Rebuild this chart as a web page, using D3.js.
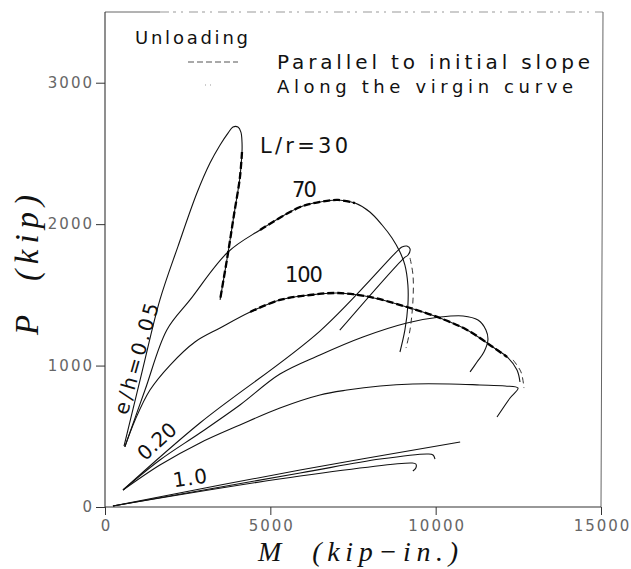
<!DOCTYPE html>
<html>
<head>
<meta charset="utf-8">
<script src="https://cdn.jsdelivr.net/npm/d3@7"></script>
<style>
  body { margin: 0; background: #fff; }
  text { font-family: "DejaVu Sans", sans-serif; }
</style>
</head>
<body>
<svg id="chart" width="631" height="569"></svg>
<script>
// Axis ticks
const xTicks = [0, 5000, 10000, 15000];
const yTicks = [0, 1000, 2000, 3000];

// Load paths, each point = [M (kip-in.), P (kip)]
// e/h = 0.05
const eh005_lr30  = [[575,431],[1120,955],[1660,1464],[2210,1845],[2780,2220],[3175,2432],[3480,2560],[3720,2644],[3870,2687],[4020,2687],[4110,2651],[4143,2581],[4143,2510],[4080,2330],[3900,2065],[3720,1795],[3480,1465]];
const eh005_lr70  = [[600,425],[1210,827],[1870,1252],[2570,1464],[3720,1803],[4690,1959],[5900,2121],[6500,2157],[7050,2171],[7560,2149],[8010,2086],[8380,1994],[8680,1902],[8920,1803],[9070,1711],[9160,1570],[9160,1428],[9070,1252],[8920,1096]];
const eh005_lr100 = [[600,425],[910,615],[1360,827],[1970,1004],[2720,1167],[3480,1266],[4390,1379],[5290,1464],[6200,1499],[7050,1513],[8010,1485],[9130,1414],[10130,1336],[10950,1252],[11730,1131],[12160,1061],[12460,969],[12550,884]];
// e/h = 0.20
const eh020_lr30  = [[545,120],[2870,594],[6500,1244],[8860,1815],[8980,1838],[9130,1845],[9225,1825],[9165,1782],[9040,1760],[7100,1250]];
const eh020_lr70  = [[545,120],[1660,332],[2870,523],[4080,721],[5290,940],[6500,1075],[7800,1202],[9130,1301],[10130,1343],[10830,1351],[11280,1322],[11520,1252],[11580,1181],[11460,1096],[11250,1025],[11040,955]];
const eh020_lr100 = [[545,120],[1660,297],[2870,453],[4080,580],[5290,700],[6500,792],[7320,827],[8320,856],[9310,870],[10430,870],[11340,863],[12100,856],[12490,841],[12250,771],[11855,636]];
// e/h = 1.0
const eh100_lr30  = [[240,7],[5900,262],[10740,460]];
const eh100_lr70  = [[240,7],[5900,240],[8320,339],[9770,375],[9920,368],[9980,339]];
const eh100_lr100 = [[240,7],[5900,219],[9280,311],[9400,304],[9400,276],[9310,255]];

// Unloading parallel to the initial slope (heavy dashes over the load paths)
const unload30  = [[4143,2510],[4080,2330],[3900,2065],[3720,1795],[3480,1465]];
const unload70  = [[4690,1959],[5900,2121],[6500,2157],[7050,2171],[7560,2149]];
const unload100 = [[4390,1379],[5290,1464],[6200,1499],[7050,1513],[8010,1485],[9130,1414],[10130,1336],[10950,1252],[11730,1131],[12160,1061]];
// Light dashed unloading branches beside the descending paths
const unload70b  = [[9224,1761],[9314,1640],[9314,1464],[9224,1252],[9103,1124]];
const unload100b = [[12340,1040],[12580,955],[12670,841]];

const loadPaths = [eh005_lr30, eh005_lr70, eh005_lr100, eh020_lr30, eh020_lr70, eh020_lr100, eh100_lr30, eh100_lr70, eh100_lr100];
const heavyDashed = [unload30, unload70, unload100];
const lightDashed = [unload70b, unload100b];

// Curve labels: [text, M, P, rotation, text length]
const slenderLabels = [["L/r=30", 4690, 2503, 0, 88], ["70", 5655, 2192, 0, 25], ["100", 5443, 1591, 0, 38]];
const eccLabels = [["e/h=0.05", 950, 1050, -74, 115], ["0.20", 1570, 465, -42, 45], ["1.0", 2570, 205, -8, 34]];

const legendTitle = "Unloading";
const legendItems = ["Parallel to initial slope", "Along the virgin curve"];

const svg = d3.select("#chart");
const plotLeft = 105, plotRight = 601, plotTop = 12, plotBottom = 507;

const x = d3.scaleLinear().domain([0, 15000]).range([plotLeft, plotRight]);
const y = d3.scaleLinear().domain([0, 3500]).range([plotBottom, plotTop]);

// Frame
svg.append("line").attr("x1", plotLeft).attr("x2", plotLeft + 55).attr("y1", plotTop).attr("y2", plotTop)
  .attr("stroke", "#666").attr("stroke-width", 1);
svg.append("line").attr("x1", plotLeft + 55).attr("x2", plotRight + 2).attr("y1", plotTop).attr("y2", plotTop)
  .attr("stroke", "#999").attr("stroke-width", 1).attr("stroke-dasharray", "9 4 3 5 2 6");
svg.append("line").attr("x1", plotRight + 2).attr("x2", plotRight).attr("y1", plotTop).attr("y2", plotBottom)
  .attr("stroke", "#666").attr("stroke-width", 1);

// Axes
const xAxis = d3.axisBottom(x).tickValues(xTicks).tickSize(8).tickFormat(d3.format("d"));
const yAxis = d3.axisLeft(y).tickValues(yTicks).tickSize(9).tickFormat(d3.format("d"));

const gx = svg.append("g").attr("transform", `translate(0,${plotBottom})`).call(xAxis);
const gy = svg.append("g").attr("transform", `translate(${plotLeft},0)`).call(yAxis);
[gx, gy].forEach(g => {
  g.select(".domain").attr("stroke", "#333").attr("stroke-width", 1.1);
  g.selectAll(".tick line").attr("stroke", "#333");
  g.selectAll(".tick text").attr("fill", "#666").style("font-size", "15px")
    .style("letter-spacing", "2px").style("font-family", "DejaVu Sans, sans-serif");
});
gy.select(".domain").attr("d", `M0,${plotBottom}V${plotTop}`);
gx.select(".domain").attr("d", `M${plotLeft},0H${plotRight}`);
gx.selectAll(".tick text").attr("dy", "0.85em").attr("dx", "1px");
gy.selectAll(".tick text").attr("x", -11);

// Axis titles
svg.append("text").attr("x", 258).attr("y", 561)
  .style("font-family", "Liberation Serif, serif").style("font-style", "italic").style("font-size", "28px")
  .attr("fill", "#111").attr("textLength", 200).attr("lengthAdjust", "spacing")
  .attr("xml:space", "preserve").text("M  (kip\u2212in.)");
svg.append("text").attr("transform", "translate(38,265) rotate(-90)").attr("text-anchor", "middle")
  .style("font-family", "Liberation Serif, serif").style("font-style", "italic").style("font-size", "33px")
  .attr("fill", "#111").attr("textLength", 140).attr("lengthAdjust", "spacing")
  .attr("xml:space", "preserve").text("P  (kip)");

// Curves
const line = d3.line().x(d => x(d[0])).y(d => y(d[1])).curve(d3.curveCatmullRom.alpha(0.5));
const plot = svg.append("g");
plot.selectAll("path.load").data(loadPaths).join("path").attr("class", "load")
  .attr("d", line).attr("fill", "none").attr("stroke", "#111").attr("stroke-width", 1.1);
plot.selectAll("path.heavy").data(heavyDashed).join("path").attr("class", "heavy")
  .attr("d", line).attr("fill", "none").attr("stroke", "#000").attr("stroke-width", 2.3)
  .attr("stroke-dasharray", "7 3");
plot.selectAll("path.light").data(lightDashed).join("path").attr("class", "light")
  .attr("d", line).attr("fill", "none").attr("stroke", "#333").attr("stroke-width", 1)
  .attr("stroke-dasharray", "6 4");

// Curve labels
svg.selectAll("text.slender").data(slenderLabels).join("text").attr("class", "slender")
  .attr("x", d => x(d[1])).attr("y", d => y(d[2])).style("font-size", "21px").attr("fill", "#111")
  .attr("textLength", d => d[4]).attr("lengthAdjust", "spacing")
  .text(d => d[0]);
svg.selectAll("text.ecc").data(eccLabels).join("text").attr("class", "ecc")
  .attr("transform", d => `translate(${x(d[1])},${y(d[2])}) rotate(${d[3]})`)
  .attr("text-anchor", "middle").attr("dominant-baseline", "central")
  .attr("textLength", d => d[4]).attr("lengthAdjust", "spacing")
  .style("font-size", "20px").attr("fill", "#111").text(d => d[0]);

// Legend
svg.append("text").attr("x", 135).attr("y", 44).style("font-size", "18px").attr("fill", "#111")
  .attr("textLength", 113).attr("lengthAdjust", "spacing").text(legendTitle);
svg.append("line").attr("x1", 188).attr("x2", 238).attr("y1", 62).attr("y2", 62)
  .attr("stroke", "#555").attr("stroke-width", 1.2).attr("stroke-dasharray", "6 3");
svg.append("line").attr("x1", 205).attr("x2", 215).attr("y1", 85).attr("y2", 85)
  .attr("stroke", "#999").attr("stroke-width", 1).attr("stroke-dasharray", "1 4");
svg.append("text").attr("x", 277).attr("y", 69).style("font-size", "20px").attr("fill", "#111")
  .attr("textLength", 313).attr("lengthAdjust", "spacing").text(legendItems[0]);
svg.append("text").attr("x", 277).attr("y", 93).style("font-size", "18px").attr("fill", "#111")
  .attr("textLength", 296).attr("lengthAdjust", "spacing").text(legendItems[1]);
</script>
</body>
</html>
